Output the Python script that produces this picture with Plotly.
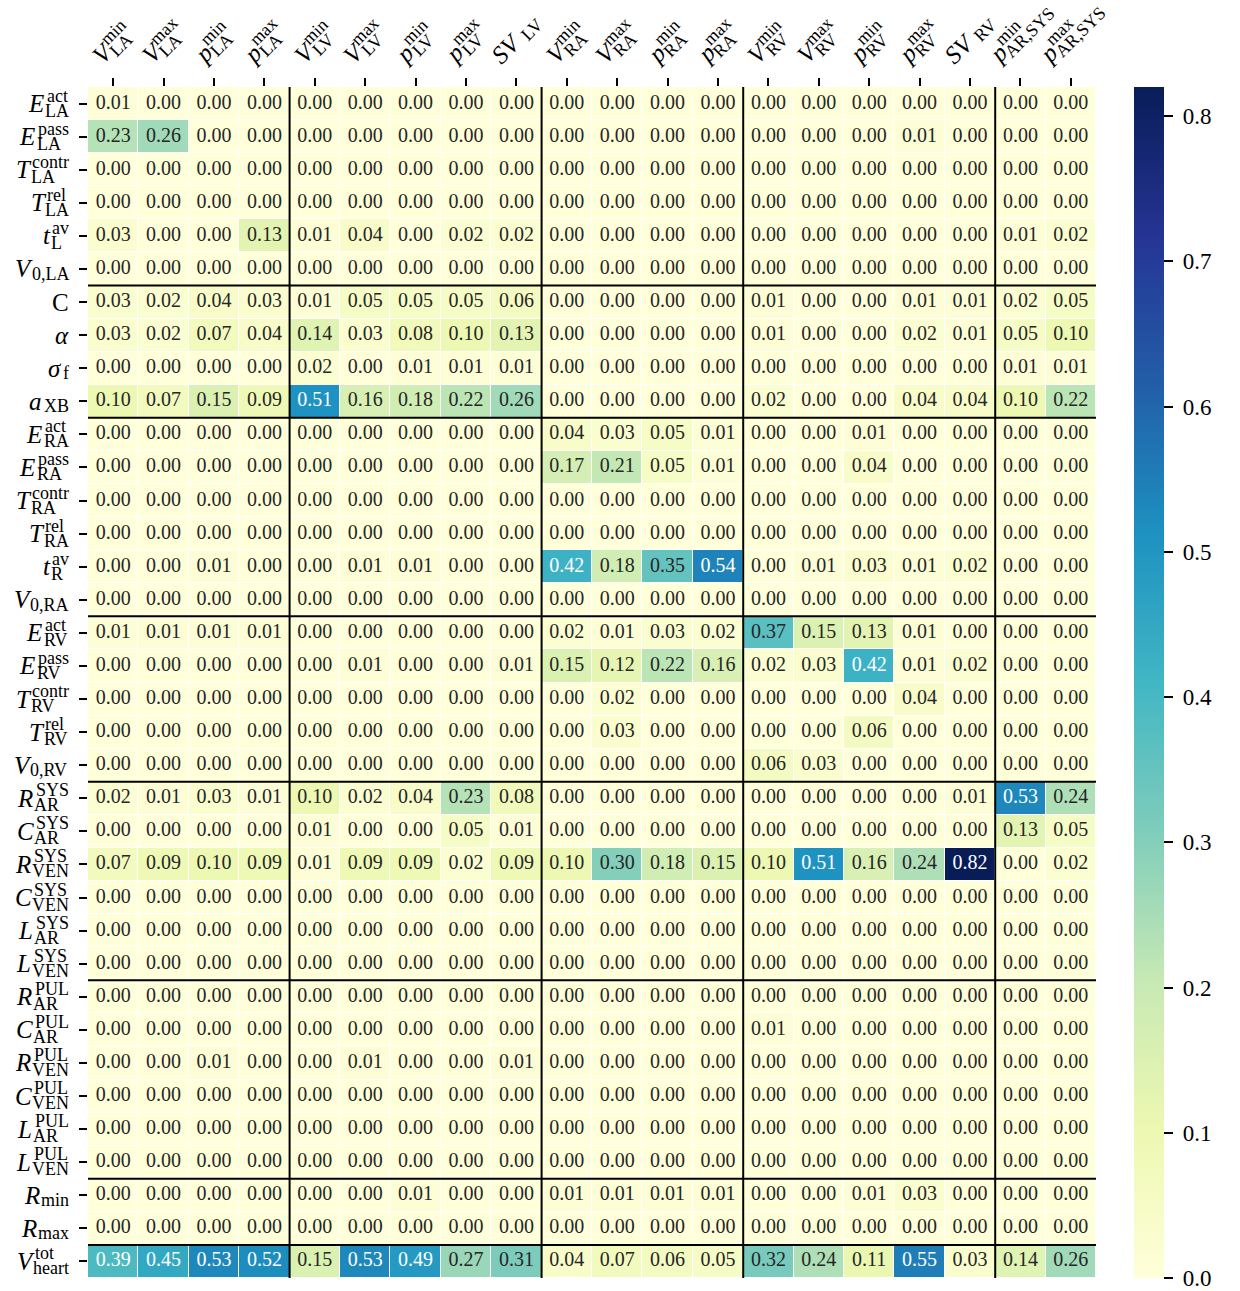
import plotly.graph_objects as go

# ---------------- data ----------------
col_keys = ["V_LA_min", "V_LA_max", "p_LA_min", "p_LA_max",
            "V_LV_min", "V_LV_max", "p_LV_min", "p_LV_max", "SV_LV",
            "V_RA_min", "V_RA_max", "p_RA_min", "p_RA_max",
            "V_RV_min", "V_RV_max", "p_RV_min", "p_RV_max", "SV_RV",
            "p_AR_min", "p_AR_max"]
col_main = ["V", "V", "p", "p", "V", "V", "p", "p", "SV",
            "V", "V", "p", "p", "V", "V", "p", "p", "SV", "p", "p"]
col_sup = ["min", "max", "min", "max", "min", "max", "min", "max", "",
           "min", "max", "min", "max", "min", "max", "min", "max", "", "min", "max"]
col_sub = ["LA", "LA", "LA", "LA", "LV", "LV", "LV", "LV", "LV",
           "RA", "RA", "RA", "RA", "RV", "RV", "RV", "RV", "RV", "AR,SYS", "AR,SYS"]
col_groups = [4, 5, 4, 5, 2]

row_keys = ["E_LA_act", "E_LA_pass", "T_LA_contr", "T_LA_rel", "t_L_av", "V0_LA",
            "C", "alpha", "sigma_f", "a_XB",
            "E_RA_act", "E_RA_pass", "T_RA_contr", "T_RA_rel", "t_R_av", "V0_RA",
            "E_RV_act", "E_RV_pass", "T_RV_contr", "T_RV_rel", "V0_RV",
            "R_AR_SYS", "C_AR_SYS", "R_VEN_SYS", "C_VEN_SYS", "L_AR_SYS", "L_VEN_SYS",
            "R_AR_PUL", "C_AR_PUL", "R_VEN_PUL", "C_VEN_PUL", "L_AR_PUL", "L_VEN_PUL",
            "R_min", "R_max", "V_heart_tot"]
row_main = ["E", "E", "T", "T", "t", "V",
            "C", "α", "σ", "a",
            "E", "E", "T", "T", "t", "V",
            "E", "E", "T", "T", "V",
            "R", "C", "R", "C", "L", "L",
            "R", "C", "R", "C", "L", "L",
            "R", "R", "V"]
row_italic = [True] * 6 + [False, True, True, True] + [True] * 26
row_sup = ["act", "pass", "contr", "rel", "av", "",
           "", "", "", "",
           "act", "pass", "contr", "rel", "av", "",
           "act", "pass", "contr", "rel", "",
           "SYS", "SYS", "SYS", "SYS", "SYS", "SYS",
           "PUL", "PUL", "PUL", "PUL", "PUL", "PUL",
           "", "", "tot"]
row_sub = ["LA", "LA", "LA", "LA", "L", "0,LA",
           "", "", "f", "XB",
           "RA", "RA", "RA", "RA", "R", "0,RA",
           "RV", "RV", "RV", "RV", "0,RV",
           "AR", "AR", "VEN", "VEN", "AR", "VEN",
           "AR", "AR", "VEN", "VEN", "AR", "VEN",
           "min", "max", "heart"]
row_groups = [6, 4, 6, 5, 6, 6, 2, 1]

vals_LA = [
    [0.01, 0.00, 0.00, 0.00, 0.00, 0.00, 0.00, 0.00, 0.00, 0.00, 0.00, 0.00, 0.00, 0.00, 0.00, 0.00, 0.00, 0.00, 0.00, 0.00],
    [0.23, 0.26, 0.00, 0.00, 0.00, 0.00, 0.00, 0.00, 0.00, 0.00, 0.00, 0.00, 0.00, 0.00, 0.00, 0.00, 0.01, 0.00, 0.00, 0.00],
    [0.00, 0.00, 0.00, 0.00, 0.00, 0.00, 0.00, 0.00, 0.00, 0.00, 0.00, 0.00, 0.00, 0.00, 0.00, 0.00, 0.00, 0.00, 0.00, 0.00],
    [0.00, 0.00, 0.00, 0.00, 0.00, 0.00, 0.00, 0.00, 0.00, 0.00, 0.00, 0.00, 0.00, 0.00, 0.00, 0.00, 0.00, 0.00, 0.00, 0.00],
    [0.03, 0.00, 0.00, 0.13, 0.01, 0.04, 0.00, 0.02, 0.02, 0.00, 0.00, 0.00, 0.00, 0.00, 0.00, 0.00, 0.00, 0.00, 0.01, 0.02],
    [0.00, 0.00, 0.00, 0.00, 0.00, 0.00, 0.00, 0.00, 0.00, 0.00, 0.00, 0.00, 0.00, 0.00, 0.00, 0.00, 0.00, 0.00, 0.00, 0.00],
]
vals_LV = [
    [0.03, 0.02, 0.04, 0.03, 0.01, 0.05, 0.05, 0.05, 0.06, 0.00, 0.00, 0.00, 0.00, 0.01, 0.00, 0.00, 0.01, 0.01, 0.02, 0.05],
    [0.03, 0.02, 0.07, 0.04, 0.14, 0.03, 0.08, 0.10, 0.13, 0.00, 0.00, 0.00, 0.00, 0.01, 0.00, 0.00, 0.02, 0.01, 0.05, 0.10],
    [0.00, 0.00, 0.00, 0.00, 0.02, 0.00, 0.01, 0.01, 0.01, 0.00, 0.00, 0.00, 0.00, 0.00, 0.00, 0.00, 0.00, 0.00, 0.01, 0.01],
    [0.10, 0.07, 0.15, 0.09, 0.51, 0.16, 0.18, 0.22, 0.26, 0.00, 0.00, 0.00, 0.00, 0.02, 0.00, 0.00, 0.04, 0.04, 0.10, 0.22],
]
vals_RA = [
    [0.00, 0.00, 0.00, 0.00, 0.00, 0.00, 0.00, 0.00, 0.00, 0.04, 0.03, 0.05, 0.01, 0.00, 0.00, 0.01, 0.00, 0.00, 0.00, 0.00],
    [0.00, 0.00, 0.00, 0.00, 0.00, 0.00, 0.00, 0.00, 0.00, 0.17, 0.21, 0.05, 0.01, 0.00, 0.00, 0.04, 0.00, 0.00, 0.00, 0.00],
    [0.00, 0.00, 0.00, 0.00, 0.00, 0.00, 0.00, 0.00, 0.00, 0.00, 0.00, 0.00, 0.00, 0.00, 0.00, 0.00, 0.00, 0.00, 0.00, 0.00],
    [0.00, 0.00, 0.00, 0.00, 0.00, 0.00, 0.00, 0.00, 0.00, 0.00, 0.00, 0.00, 0.00, 0.00, 0.00, 0.00, 0.00, 0.00, 0.00, 0.00],
    [0.00, 0.00, 0.01, 0.00, 0.00, 0.01, 0.01, 0.00, 0.00, 0.42, 0.18, 0.35, 0.54, 0.00, 0.01, 0.03, 0.01, 0.02, 0.00, 0.00],
    [0.00, 0.00, 0.00, 0.00, 0.00, 0.00, 0.00, 0.00, 0.00, 0.00, 0.00, 0.00, 0.00, 0.00, 0.00, 0.00, 0.00, 0.00, 0.00, 0.00],
]
vals_RV = [
    [0.01, 0.01, 0.01, 0.01, 0.00, 0.00, 0.00, 0.00, 0.00, 0.02, 0.01, 0.03, 0.02, 0.37, 0.15, 0.13, 0.01, 0.00, 0.00, 0.00],
    [0.00, 0.00, 0.00, 0.00, 0.00, 0.01, 0.00, 0.00, 0.01, 0.15, 0.12, 0.22, 0.16, 0.02, 0.03, 0.42, 0.01, 0.02, 0.00, 0.00],
    [0.00, 0.00, 0.00, 0.00, 0.00, 0.00, 0.00, 0.00, 0.00, 0.00, 0.02, 0.00, 0.00, 0.00, 0.00, 0.00, 0.04, 0.00, 0.00, 0.00],
    [0.00, 0.00, 0.00, 0.00, 0.00, 0.00, 0.00, 0.00, 0.00, 0.00, 0.03, 0.00, 0.00, 0.00, 0.00, 0.06, 0.00, 0.00, 0.00, 0.00],
    [0.00, 0.00, 0.00, 0.00, 0.00, 0.00, 0.00, 0.00, 0.00, 0.00, 0.00, 0.00, 0.00, 0.06, 0.03, 0.00, 0.00, 0.00, 0.00, 0.00],
]
vals_SYS = [
    [0.02, 0.01, 0.03, 0.01, 0.10, 0.02, 0.04, 0.23, 0.08, 0.00, 0.00, 0.00, 0.00, 0.00, 0.00, 0.00, 0.00, 0.01, 0.53, 0.24],
    [0.00, 0.00, 0.00, 0.00, 0.01, 0.00, 0.00, 0.05, 0.01, 0.00, 0.00, 0.00, 0.00, 0.00, 0.00, 0.00, 0.00, 0.00, 0.13, 0.05],
    [0.07, 0.09, 0.10, 0.09, 0.01, 0.09, 0.09, 0.02, 0.09, 0.10, 0.30, 0.18, 0.15, 0.10, 0.51, 0.16, 0.24, 0.82, 0.00, 0.02],
    [0.00, 0.00, 0.00, 0.00, 0.00, 0.00, 0.00, 0.00, 0.00, 0.00, 0.00, 0.00, 0.00, 0.00, 0.00, 0.00, 0.00, 0.00, 0.00, 0.00],
    [0.00, 0.00, 0.00, 0.00, 0.00, 0.00, 0.00, 0.00, 0.00, 0.00, 0.00, 0.00, 0.00, 0.00, 0.00, 0.00, 0.00, 0.00, 0.00, 0.00],
    [0.00, 0.00, 0.00, 0.00, 0.00, 0.00, 0.00, 0.00, 0.00, 0.00, 0.00, 0.00, 0.00, 0.00, 0.00, 0.00, 0.00, 0.00, 0.00, 0.00],
]
vals_PUL = [
    [0.00, 0.00, 0.00, 0.00, 0.00, 0.00, 0.00, 0.00, 0.00, 0.00, 0.00, 0.00, 0.00, 0.00, 0.00, 0.00, 0.00, 0.00, 0.00, 0.00],
    [0.00, 0.00, 0.00, 0.00, 0.00, 0.00, 0.00, 0.00, 0.00, 0.00, 0.00, 0.00, 0.00, 0.01, 0.00, 0.00, 0.00, 0.00, 0.00, 0.00],
    [0.00, 0.00, 0.01, 0.00, 0.00, 0.01, 0.00, 0.00, 0.01, 0.00, 0.00, 0.00, 0.00, 0.00, 0.00, 0.00, 0.00, 0.00, 0.00, 0.00],
    [0.00, 0.00, 0.00, 0.00, 0.00, 0.00, 0.00, 0.00, 0.00, 0.00, 0.00, 0.00, 0.00, 0.00, 0.00, 0.00, 0.00, 0.00, 0.00, 0.00],
    [0.00, 0.00, 0.00, 0.00, 0.00, 0.00, 0.00, 0.00, 0.00, 0.00, 0.00, 0.00, 0.00, 0.00, 0.00, 0.00, 0.00, 0.00, 0.00, 0.00],
    [0.00, 0.00, 0.00, 0.00, 0.00, 0.00, 0.00, 0.00, 0.00, 0.00, 0.00, 0.00, 0.00, 0.00, 0.00, 0.00, 0.00, 0.00, 0.00, 0.00],
]
vals_R = [
    [0.00, 0.00, 0.00, 0.00, 0.00, 0.00, 0.01, 0.00, 0.00, 0.01, 0.01, 0.01, 0.01, 0.00, 0.00, 0.01, 0.03, 0.00, 0.00, 0.00],
    [0.00, 0.00, 0.00, 0.00, 0.00, 0.00, 0.00, 0.00, 0.00, 0.00, 0.00, 0.00, 0.00, 0.00, 0.00, 0.00, 0.00, 0.00, 0.00, 0.00],
]
vals_heart = [
    [0.39, 0.45, 0.53, 0.52, 0.15, 0.53, 0.49, 0.27, 0.31, 0.04, 0.07, 0.06, 0.05, 0.32, 0.24, 0.11, 0.55, 0.03, 0.14, 0.26],
]

z = vals_LA + vals_LV + vals_RA + vals_RV + vals_SYS + vals_PUL + vals_R + vals_heart

# ---------------- style ----------------
FONT = "Liberation Serif"
W, H = 1240, 1291
ML, MR, MT, MB = 88, 144, 87, 13
MAIN, SCRIPT, CELL = 25, 18, 20
YlGnBu = ["#ffffd9", "#edf8b1", "#c7e9b4", "#7fcdbb", "#41b6c4",
          "#1d91c0", "#225ea8", "#253494", "#081d58"]
cscale = [[i / (len(YlGnBu) - 1), c] for i, c in enumerate(YlGnBu)]

ROMAN = {' ': 250, ',': 250, '.': 250, 'A': 722, 'B': 667, 'C': 667, 'E': 611, 'L': 611,
         'N': 722, 'P': 556, 'R': 667, 'S': 556, 'U': 722, 'V': 722, 'X': 722, 'Y': 722,
         'T': 611, 'a': 444, 'c': 444, 'e': 444, 'f': 333, 'h': 500, 'i': 278, 'l': 278,
         'm': 778, 'n': 500, 'o': 500, 'p': 500, 'r': 333, 's': 389, 't': 278, 'v': 500,
         'x': 500}
ITALIC = {'E': 611, 'T': 556, 'V': 611, 'R': 611, 'C': 667, 'L': 556, 'S': 500,
          't': 278, 'p': 500, 'a': 500, 'α': 520, 'σ': 500}
KERN = {'T': 3.0, 'V': 3.0, 't': 2.0, 'C': 1.0, 'R': 0.5, 'L': 0.5, 'p': 1.0}


def tw(s, size, table):
    return sum(table.get(ch, 500) for ch in s) * size / 1000.0


fig = go.Figure()
zmax = max(max(r) for r in z)
fig.add_trace(go.Heatmap(
    z=z, x=col_keys, y=row_keys, colorscale=cscale, zmin=0, zmax=zmax,
    xgap=1, ygap=1, hoverinfo="skip",
    colorbar=dict(thickness=30, len=1, lenmode="fraction", y=0.5, yanchor="middle",
                  ypad=0, x=(1134 - ML) / (W - ML - MR), xanchor="left", xpad=0,
                  outlinewidth=0, ticks="outside", ticklen=9, tickwidth=1.5,
                  tickcolor="black", tick0=0, dtick=0.1, tickformat=".1f",
                  tickprefix=" ", ticklabeloverflow="allow",
                  tickfont=dict(family=FONT, size=23, color="black")),
))

# cell annotations
xs, ys, txt, tcol = [], [], [], []
for i, rk in enumerate(row_keys):
    for j, ck in enumerate(col_keys):
        v = z[i][j]
        xs.append(ck)
        ys.append(rk)
        txt.append(f"{v:.2f}")
        tcol.append("white" if v >= 0.38 else "#262626")
fig.add_trace(go.Scatter(x=xs, y=ys, mode="text", text=txt,
                         textfont=dict(family=FONT, size=CELL, color=tcol),
                         hoverinfo="skip", showlegend=False))

# separators
shapes = []
b = 0
for g in row_groups[:-1]:
    b += g
    shapes.append(dict(type="line", xref="x", yref="y", x0=-0.5, x1=len(col_keys) - 0.5,
                       y0=b - 0.5, y1=b - 0.5, line=dict(color="black", width=2), layer="above"))
b = 0
for g in col_groups[:-1]:
    b += g
    shapes.append(dict(type="line", xref="x", yref="y", x0=b - 0.5, x1=b - 0.5,
                       y0=-0.6, y1=len(row_keys) - 0.5, line=dict(color="black", width=2), layer="above"))

annotations = []

# y labels (stacked super/subscripts)
label_right = -19
for key, m, it, sp, sb in zip(row_keys, row_main, row_italic, row_sup, row_sub):
    wsp = tw(sp, SCRIPT, ROMAN) + (1.5 if sp else 0)
    wsb = tw(sb, SCRIPT, ROMAN)
    ws = max(wsp, wsb)
    left = label_right - ws
    common = dict(xref="paper", x=0, yref="y", y=key, yanchor="middle", showarrow=False,
                  borderpad=0, borderwidth=0)
    if sp:
        annotations.append(dict(text=sp, xanchor="left", xshift=left + 1.5, yshift=8,
                                font=dict(family=FONT, size=SCRIPT, color="black"), **common))
    if sb:
        annotations.append(dict(text=sb, xanchor="left", xshift=left,
                                yshift=-7 if sp else -5,
                                font=dict(family=FONT, size=SCRIPT, color="black"), **common))
    gap = (1.5 - KERN.get(m, 0)) if (sp or sb) else 0
    mtxt = f"<i>{m}</i>" if it else m
    annotations.append(dict(text=mtxt, xanchor="right", xshift=left - gap,
                            font=dict(family=FONT, size=MAIN, color="black"), **common))

# x labels (rotated, stacked)
c = 0.70710678
for key, m, sp, sb in zip(col_keys, col_main, col_sup, col_sub):
    wm = tw(m, MAIN, ITALIC)
    wsp = tw(sp, SCRIPT, ROMAN) + (1.5 if sp else 0)
    wsb = tw(sb, SCRIPT, ROMAN)
    g = 5 if m == "SV" else 1.5 - KERN.get(m, 0)
    L = wm + g + max(wsp, wsb)
    cy = 21 + (L + 22) * c / 2
    common = dict(xref="x", x=key, yref="paper", y=1, xanchor="center", yanchor="middle",
                  textangle=-45, showarrow=False, borderpad=0, borderwidth=0)
    s = -L / 2 + wm / 2
    annotations.append(dict(text=f"<i>{m}</i>", xshift=s * c, yshift=cy + s * c,
                            font=dict(family=FONT, size=MAIN, color="black"), **common))
    if sp:
        s = -L / 2 + wm + g + 1.5 + (wsp - 1.5) / 2
        annotations.append(dict(text=sp, xshift=s * c - 8 * c, yshift=cy + s * c + 8 * c,
                                font=dict(family=FONT, size=SCRIPT, color="black"), **common))
    if sb:
        d = 7 if sp else 5
        s = -L / 2 + wm + g + wsb / 2
        annotations.append(dict(text=sb, xshift=s * c + d * c, yshift=cy + s * c - d * c,
                                font=dict(family=FONT, size=SCRIPT, color="black"), **common))

fig.update_layout(
    width=W, height=H, margin=dict(l=ML, r=MR, t=MT, b=MB, pad=0),
    paper_bgcolor="white", plot_bgcolor="white", showlegend=False,
    font=dict(family=FONT, color="black"),
    shapes=shapes, annotations=annotations,
    xaxis=dict(type="category", categoryorder="array", categoryarray=col_keys,
               range=[-0.5, len(col_keys) - 0.5], side="top", ticks="outside", ticklen=8,
               tickwidth=1.5, tickcolor="black", showticklabels=False, showgrid=False,
               zeroline=False, showline=False, fixedrange=True),
    yaxis=dict(type="category", categoryorder="array", categoryarray=row_keys,
               range=[len(row_keys) - 0.5, -0.5], ticks="outside", ticklen=8,
               tickwidth=2, tickcolor="black", showticklabels=False, showgrid=False,
               zeroline=False, showline=False, fixedrange=True),
)

fig.write_html("out.html", config={"displayModeBar": False},
               post_script="document.body.style.margin='0px';")
